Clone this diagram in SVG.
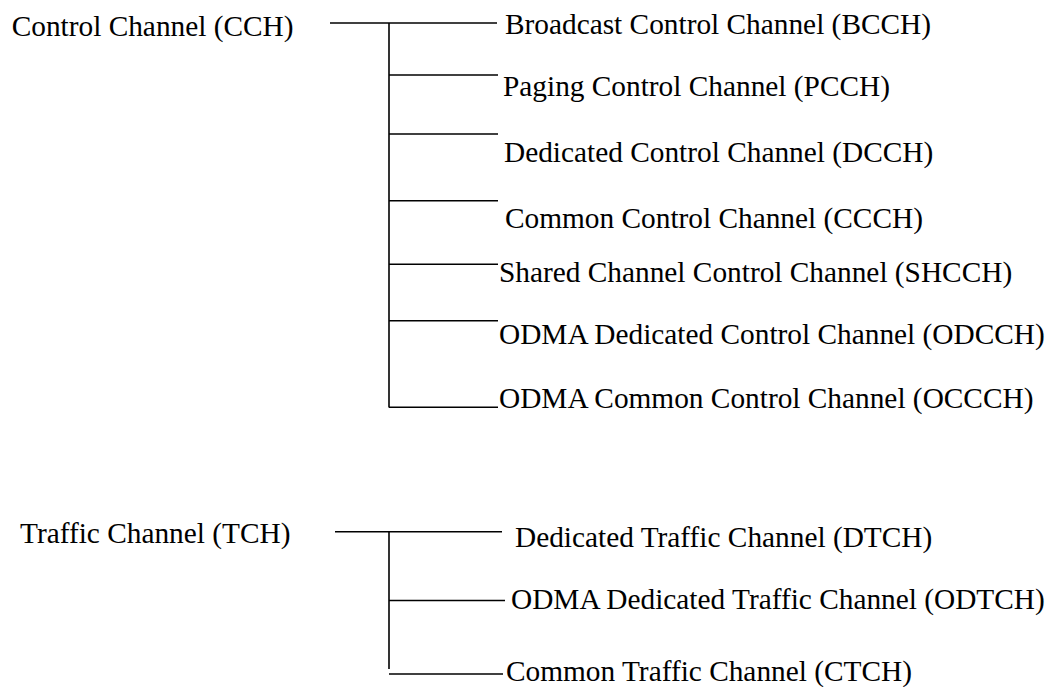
<svg xmlns="http://www.w3.org/2000/svg" width="1052" height="687" viewBox="0 0 1052 687">
<style>
text{font-family:"Liberation Serif","Times New Roman",serif;font-size:29.33px;fill:#000}
.c line{stroke:#000;stroke-width:1.6;fill:none}
</style>
<rect width="1052" height="687" fill="#fff"/>
<g id="connectors" class="c">
<line x1="330" y1="23" x2="497" y2="23"/>
<line x1="389" y1="23" x2="389" y2="407.5"/>
<line x1="389" y1="75" x2="498" y2="75"/>
<line x1="389" y1="134" x2="498" y2="134"/>
<line x1="389" y1="200.7" x2="498" y2="200.7"/>
<line x1="389" y1="264.3" x2="498" y2="264.3"/>
<line x1="389" y1="320.7" x2="498" y2="320.7"/>
<line x1="389" y1="407.3" x2="498" y2="407.3"/>
<line x1="335" y1="531.7" x2="502" y2="531.7"/>
<line x1="389" y1="531.7" x2="389" y2="669"/>
<line x1="389" y1="600.5" x2="505" y2="600.5"/>
<line x1="389" y1="674" x2="503" y2="674"/>
</g>
<g id="cch"><text x="11.7" y="35.7">Control Channel (CCH)</text></g>
<g id="bcch"><text x="505" y="33.5">Broadcast Control Channel (BCCH)</text></g>
<g id="pcch"><text x="503" y="96">Paging Control Channel (PCCH)</text></g>
<g id="dcch"><text x="504" y="161.7">Dedicated Control Channel (DCCH)</text></g>
<g id="ccch"><text x="505" y="228.3">Common Control Channel (CCCH)</text></g>
<g id="shcch"><text x="499" y="281.7">Shared Channel Control Channel (SHCCH)</text></g>
<g id="odcch"><text x="499" y="344">ODMA Dedicated Control Channel (ODCCH)</text></g>
<g id="occch"><text x="499" y="408">ODMA Common Control Channel (OCCCH)</text></g>
<g id="tch"><text x="20" y="543.3">Traffic Channel (TCH)</text></g>
<g id="dtch"><text x="515" y="546.5">Dedicated Traffic Channel (DTCH)</text></g>
<g id="odtch"><text x="511" y="609">ODMA Dedicated Traffic Channel (ODTCH)</text></g>
<g id="ctch"><text x="506" y="681">Common Traffic Channel (CTCH)</text></g>
</svg>
